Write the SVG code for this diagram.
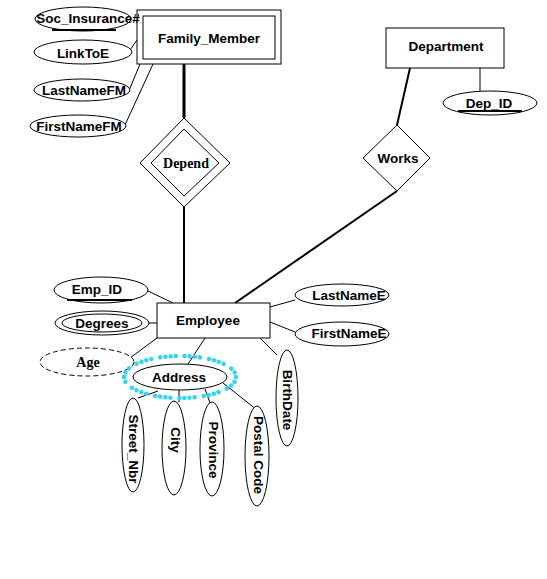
<svg xmlns="http://www.w3.org/2000/svg" width="547" height="579" viewBox="0 0 547 579">
<style>
.s{fill:#fff;stroke:#000;stroke-width:1}
.t{font-family:"Liberation Sans",Arial,sans-serif;font-weight:bold;font-size:13.5px;text-anchor:middle;fill:#000}
.r{font-family:"Liberation Serif","Times New Roman",serif;font-weight:bold;font-size:14px;text-anchor:middle;fill:#000}
.c line{stroke:#000;stroke-width:1}
.c .k{stroke-width:2}
.c .kk{stroke-width:3}
</style>
<rect width="547" height="579" fill="#fff"/>
<g class="c" id="connectors">
<line x1="130" y1="50" x2="137" y2="40"/>
<line x1="128" y1="93" x2="140" y2="64"/>
<line x1="125" y1="125" x2="153" y2="64"/>
<line class="kk" x1="184" y1="64" x2="184" y2="118"/>
<line class="k" x1="184" y1="207" x2="184" y2="303"/>
<line class="k" x1="410" y1="68" x2="397" y2="125"/>
<line class="k" x1="397" y1="191" x2="235" y2="303"/>
<line x1="480" y1="68" x2="480" y2="91"/>
<line x1="148" y1="291" x2="173" y2="303"/>
<line x1="149" y1="323" x2="157" y2="323"/>
<line x1="157" y1="338" x2="130" y2="358"/>
<line x1="205" y1="338" x2="188" y2="364"/>
<line x1="260" y1="338" x2="277" y2="355"/>
<line x1="270" y1="307" x2="295" y2="300"/>
<line x1="270" y1="322" x2="295" y2="332"/>
<line x1="138" y1="398" x2="158" y2="391"/>
<line x1="179" y1="402" x2="179" y2="390"/>
<line x1="210" y1="403" x2="205" y2="389"/>
<line x1="257" y1="410" x2="223" y2="383"/>
</g>
<g id="Family_Member">
<rect class="s" x="137" y="10" width="144" height="54"/>
<rect class="s" x="143" y="16" width="132" height="43"/>
<text class="t" x="209" y="43">Family_Member</text>
</g>
<g id="Soc_Insurance">
<ellipse class="s" cx="83" cy="19" rx="48" ry="12"/>
<line x1="52" y1="30" x2="116" y2="30" stroke="#000" stroke-width="2"/>
<text class="t" x="88" y="23">Soc_Insurance#</text>
</g>
<g id="LinkToE">
<ellipse class="s" cx="83" cy="52" rx="49" ry="12"/>
<text class="t" x="83" y="58">LinkToE</text>
</g>
<g id="LastNameFM">
<ellipse class="s" cx="82" cy="90" rx="48" ry="11"/>
<text class="t" x="84" y="95">LastNameFM</text>
</g>
<g id="FirstNameFM">
<ellipse class="s" cx="78" cy="126" rx="48" ry="11"/>
<text class="t" x="79" y="131">FirstNameFM</text>
</g>
<g id="Depend">
<polygon class="s" points="184,118 230,163 184,207 140,163"/>
<polygon class="s" points="184,129 219,163 184,196 151,163"/>
<text class="r" x="186" y="168">Depend</text>
</g>
<g id="Department">
<rect class="s" x="386" y="28" width="118" height="40"/>
<text class="t" x="446" y="51">Department</text>
</g>
<g id="Dep_ID">
<ellipse class="s" cx="490" cy="103" rx="47" ry="12"/>
<line x1="458" y1="111" x2="522" y2="111" stroke="#000" stroke-width="2"/>
<text class="t" x="489" y="108">Dep_ID</text>
</g>
<g id="Works">
<polygon class="s" points="397,125 430,158 397,191 363,158"/>
<text class="t" x="398" y="163">Works</text>
</g>
<g id="Employee">
<rect class="s" x="157" y="303" width="113" height="35"/>
<text class="t" x="208" y="325">Employee</text>
</g>
<g id="Emp_ID">
<ellipse class="s" cx="101" cy="290" rx="47" ry="13"/>
<line x1="67" y1="300" x2="132" y2="300" stroke="#000" stroke-width="2"/>
<text class="t" x="97" y="294">Emp_ID</text>
</g>
<g id="Degrees">
<ellipse class="s" cx="102" cy="323" rx="47" ry="12"/>
<ellipse class="s" cx="102" cy="323" rx="40" ry="9"/>
<text class="t" x="102" y="328">Degrees</text>
</g>
<g id="Age">
<ellipse class="s" cx="87" cy="362" rx="47" ry="14" stroke-dasharray="5,3"/>
<text class="r" x="88" y="367">Age</text>
</g>
<g id="Address">
<ellipse cx="180" cy="377" rx="56" ry="21" fill="none" stroke="#33d6ee" stroke-width="4.5" stroke-linecap="round" stroke-dasharray="0.1,5,0.1,5,0.1,5,0.1,9"/>
<ellipse class="s" cx="180" cy="377" rx="47" ry="13"/>
<text class="t" x="179" y="382">Address</text>
</g>
<g id="LastNameE">
<ellipse class="s" cx="342" cy="295" rx="47" ry="11"/>
<text class="t" x="349" y="300">LastNameE</text>
</g>
<g id="FirstNameE">
<ellipse class="s" cx="342" cy="334" rx="47" ry="12"/>
<text class="t" x="349" y="338">FirstNameE</text>
</g>
<g id="BirthDate">
<ellipse class="s" cx="287" cy="398" rx="11" ry="48"/>
<text class="t" transform="translate(287,400) rotate(90)" x="0" y="4.5">BirthDate</text>
</g>
<g id="Street_Nbr">
<ellipse class="s" cx="133" cy="445" rx="11" ry="47"/>
<text class="t" transform="translate(133,449) rotate(90)" x="0" y="4.5">Street_Nbr</text>
</g>
<g id="City">
<ellipse class="s" cx="174" cy="448" rx="12" ry="47"/>
<text class="t" transform="translate(175,440) rotate(90)" x="0" y="4.5">City</text>
</g>
<g id="Province">
<ellipse class="s" cx="212" cy="449" rx="12" ry="47"/>
<text class="t" transform="translate(213,450) rotate(90)" x="0" y="4.5">Province</text>
</g>
<g id="Postal_Code">
<ellipse class="s" cx="257" cy="456" rx="12" ry="50"/>
<text class="t" transform="translate(258,455) rotate(90)" x="0" y="4.5">Postal Code</text>
</g>
</svg>
